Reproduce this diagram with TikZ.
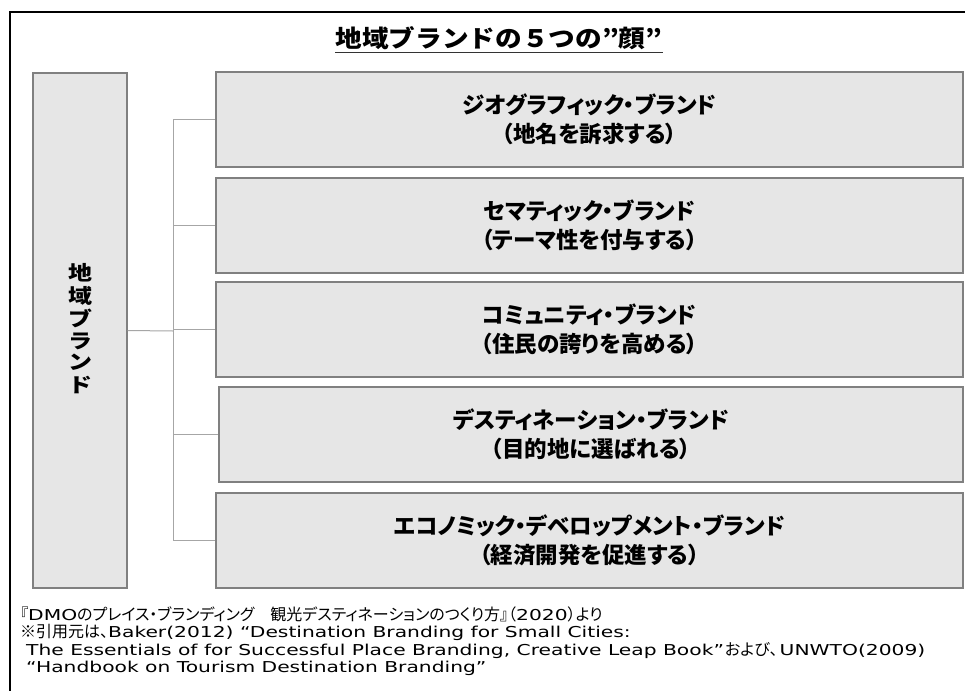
\documentclass[tikz,border=0pt]{standalone}
\usepackage{fontspec}
\usepackage{graphicx}
\usepackage{tikz}
\usetikzlibrary{calc}
\setmainfont{DejaVu Sans}
\newfontfamily\jpfont{Noto Sans CJK JP}
\newfontfamily\jpprop[RawFeature=+palt]{Noto Sans CJK JP}
\newcommand{\jtext}[1]{{\jpprop\fontsize{16}{18}\selectfont #1}}
\newcommand{\latin}[1]{\scalebox{1.35}[1]{#1}}
\definecolor{FaceFill}{HTML}{E6E6E6}
\definecolor{FaceEdge}{HTML}{808080}
\definecolor{LinkGray}{HTML}{A6A6A6}

\tikzset{
  facebox/.style={draw=FaceEdge, fill=FaceFill, line width=1.2pt, inner sep=0pt,
    minimum width=747pt, minimum height=95pt, align=center,
    font=\jpprop\bfseries\fontsize{22.5}{29}\selectfont},
  link/.style={draw=LinkGray, line width=1pt},
  note/.style={anchor=west, inner sep=0pt, font=\fontsize{15}{18}\selectfont}
}

\begin{document}
\begin{tikzpicture}[x=1pt,y=-1pt]
    \useasboundingbox (0,0) rectangle (965,690);
    \clip (0,0) rectangle (965,690);
    \fill[white] (0,0) rectangle (965,690);
    \draw[line width=2pt] (10,700) -- (10,12) -- (975,12);

    \node[inner sep=0pt, font=\jpfont\bfseries\fontsize{24}{28}\selectfont] (title) at (499,38) {\scalebox{1.11}[1]{地域ブランドの５つの”顔”}};
    \draw[line width=1.6pt, black!80] ([yshift=-5pt]title.base west) -- ([yshift=-5pt]title.base east);

    \node[facebox, minimum width=94pt, minimum height=515pt, font=\jpfont\bfseries\fontsize{20}{20}\selectfont] (region) at (80,330.5)
      {\scalebox{1.2}[1]{\begin{tabular}{@{}c@{}}地\\域\\ブ\\ラ\\ン\\ド\end{tabular}}};

    \node[facebox] (geo) at (589.5,119.5) {ジオグラフィック・ブランド\\（地名を訴求する）};
    \node[facebox] (thema) at (589.5,225.5) {セマティック・ブランド\\（テーマ性を付与する）};
    \node[facebox] (commu) at (589.5,329.5) {コミュニティ・ブランド\\（住民の誇りを高める）};
    \node[facebox, minimum width=744pt] (desti) at (591,434.5) {デスティネーション・ブランド\\（目的地に選ばれる）};
    \node[facebox] (econ) at (589.5,540.5) {エコノミック・デベロップメント・ブランド\\（経済開発を促進する）};

    \coordinate (trunk) at (173,331);
    \draw[link] (region.east) -- (trunk);
    \draw[link] (geo.west -| trunk) -- (econ.west -| trunk);
    \draw[link] (geo.west -| trunk) -- (geo.west);
    \draw[link] (thema.west -| trunk) -- (thema.west);
    \draw[link] (commu.west -| trunk) -- (commu.west);
    \draw[link] (desti.west -| trunk) -- (desti.west);
    \draw[link] (econ.west -| trunk) -- (econ.west);

    \node[note] (src) at (20,614) {\jtext{『}\latin{DMO}\jtext{のプレイス・ブランディング　観光デスティネーションのつくり方』（}\latin{2020}\jtext{）より}};
    \node[note] (cite) at (20,632) {\jtext{※引用元は、}\latin{Baker(2012) “Destination Branding for Small Cities:}};
    \node[note] (cite2) at (26,650) {\latin{The Essentials of for Successful Place Branding, Creative Leap Book”}\hspace{1pt}\jtext{および、}\hspace{2pt}\latin{UNWTO(2009)}};
    \node[note] (cite3) at (26,668) {\latin{“Handbook on Tourism Destination Branding”}};
\end{tikzpicture}
\end{document}
